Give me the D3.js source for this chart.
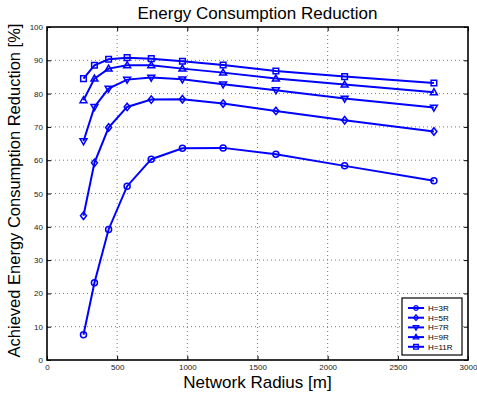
<!DOCTYPE html>
<html><head><meta charset="utf-8">
<script src="https://cdn.jsdelivr.net/npm/d3@7"></script>
<style>body{margin:0;background:#fff}svg{display:block}</style>
</head><body>
<svg id="c" width="477" height="396"></svg>
<script>
const radius = [260, 338, 439, 571, 743, 965, 1255, 1631, 2121, 2757];
const h3  = [7.6, 23.2, 39.2, 52.2, 60.3, 63.6, 63.7, 61.8, 58.3, 53.8];
const h5  = [43.3, 59.2, 69.8, 76.0, 78.2, 78.3, 77.0, 74.8, 72.0, 68.6];
const h7  = [65.7, 76.0, 81.5, 84.2, 84.8, 84.3, 82.8, 81.0, 78.5, 75.8];
const h9  = [78.0, 84.5, 87.5, 88.5, 88.5, 87.5, 86.3, 84.5, 82.7, 80.4];
const h11 = [84.5, 88.5, 90.3, 90.8, 90.5, 89.7, 88.6, 86.8, 85.1, 83.2];
const seriesNames = ["H=3R", "H=5R", "H=7R", "H=9R", "H=11R"];
const markers = ["circle", "diamond", "tdown", "tup", "square"];
const xTicks = [0, 500, 1000, 1500, 2000, 2500, 3000];
const yTicks = [0, 10, 20, 30, 40, 50, 60, 70, 80, 90, 100];

const series = [h3, h5, h7, h9, h11];
const svg = d3.select("#c");
const L = 47, R = 468, T = 27, B = 360;
const x = d3.scaleLinear().domain([0, 3000]).range([L, R]);
const y = d3.scaleLinear().domain([0, 100]).range([B, T]);
const font = "'Liberation Sans', Arial, Helvetica, sans-serif";
const blue = "#0000ff";

// grid
const g = svg.append("g");
g.selectAll(".gx").data(xTicks.slice(1, -1)).enter().append("line")
  .attr("x1", d => x(d)).attr("x2", d => x(d)).attr("y1", T).attr("y2", B)
  .attr("stroke", "#777").attr("stroke-width", 1).attr("stroke-dasharray", "1,3");
g.selectAll(".gy").data(yTicks.slice(1, -1)).enter().append("line")
  .attr("y1", d => y(d)).attr("y2", d => y(d)).attr("x1", L).attr("x2", R)
  .attr("stroke", "#777").attr("stroke-width", 1).attr("stroke-dasharray", "1,3");

// axes
const xa = svg.append("g").attr("transform", `translate(0,${B})`)
  .call(d3.axisBottom(x).tickValues(xTicks).tickSizeInner(-4).tickSizeOuter(0).tickPadding(4).tickFormat(d3.format("d")));
const ya = svg.append("g").attr("transform", `translate(${L},0)`)
  .call(d3.axisLeft(y).tickValues(yTicks).tickSizeInner(-4).tickSizeOuter(0).tickPadding(4).tickFormat(d3.format("d")));
const xt = svg.append("g").attr("transform", `translate(0,${T})`)
  .call(d3.axisTop(x).tickValues(xTicks).tickSizeInner(-4).tickSizeOuter(0).tickFormat(""));
const yr = svg.append("g").attr("transform", `translate(${R},0)`)
  .call(d3.axisRight(y).tickValues(yTicks).tickSizeInner(-4).tickSizeOuter(0).tickFormat(""));
[xa, ya, xt, yr].forEach(a => {
  a.select(".domain").remove();
  a.selectAll("line").attr("stroke", "#000");
  a.selectAll("text").attr("font-family", font).attr("font-size", 8).attr("fill", "#222");
});
svg.append("rect").attr("x", L).attr("y", T).attr("width", R - L).attr("height", B - T)
  .attr("fill", "none").attr("stroke", "#000").attr("stroke-width", 1.6);

// marker drawing
function drawMarker(sel, type, s) {
  if (type === "circle") return sel.append("circle").attr("r", s);
  let p;
  if (type === "square") p = `M${-s},${-s}H${s}V${s}H${-s}Z`;
  else if (type === "diamond") p = `M0,${-s*1.25}L${s},0L0,${s*1.25}L${-s},0Z`;
  else if (type === "tup") p = `M0,${-s*1.2}L${s*1.15},${s*0.8}L${-s*1.15},${s*0.8}Z`;
  else p = `M0,${s*1.2}L${s*1.15},${-s*0.8}L${-s*1.15},${-s*0.8}Z`;
  return sel.append("path").attr("d", p);
}

const line = d3.line().x((d, i) => x(radius[i])).y(d => y(d));
series.forEach((vals, k) => {
  const sg = svg.append("g");
  sg.append("path").datum(vals).attr("d", line).attr("fill", "none")
    .attr("stroke", blue).attr("stroke-width", 2);
  vals.forEach((v, i) => {
    const m = sg.append("g").attr("transform", `translate(${x(radius[i])},${y(v)})`);
    drawMarker(m, markers[k], k === 4 ? 2.8 : 3).attr("fill", "none")
      .attr("stroke", blue).attr("stroke-width", 1.5);
  });
});

// legend
const lg = svg.append("g");
lg.append("rect").attr("x", 402).attr("y", 298).attr("width", 60).attr("height", 57)
  .attr("fill", "#fff").attr("stroke", "#000").attr("stroke-width", 1.2);
seriesNames.forEach((n, k) => {
  const yy = 308 + k * 9.7;
  lg.append("line").attr("x1", 408).attr("x2", 424).attr("y1", yy).attr("y2", yy)
    .attr("stroke", blue).attr("stroke-width", 2);
  const m = lg.append("g").attr("transform", `translate(416,${yy})`);
  drawMarker(m, markers[k], 2.3).attr("fill", "none").attr("stroke", blue).attr("stroke-width", 1.3);
  lg.append("text").attr("x", 428).attr("y", yy + 3).text(n)
    .attr("font-family", font).attr("font-size", 8).attr("fill", "#000");
});

// titles
svg.append("text").attr("x", (L + R) / 2).attr("y", 18.5).attr("text-anchor", "middle")
  .attr("font-family", font).attr("font-size", 17).text("Energy Consumption Reduction");
svg.append("text").attr("x", (L + R) / 2).attr("y", 388).attr("text-anchor", "middle")
  .attr("font-family", font).attr("font-size", 17).text("Network Radius [m]");
svg.append("text").attr("transform", `translate(20,190.5) rotate(-90)`)
  .attr("text-anchor", "middle").attr("font-family", font).attr("font-size", 16.5)
  .text("Achieved Energy Consumption Reduction [%]");
</script>
</body></html>
